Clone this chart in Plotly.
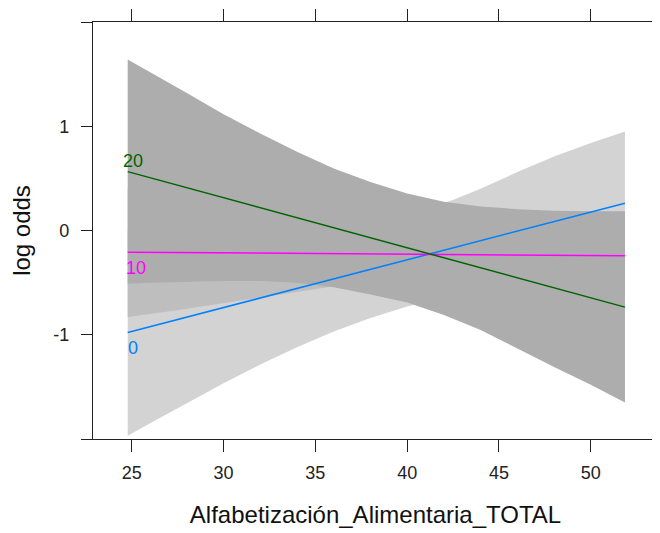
import plotly.graph_objects as go

# ---- data ----
line_x = [24.78, 51.86]
line_0 = [-0.978, 0.262]     # level "0"  (blue)
line_10 = [-0.208, -0.243]   # level "10" (magenta)
line_20 = [0.565, -0.735]    # level "20" (green)

band_x = [24.78, 26, 28, 30, 32, 34, 36, 38, 40, 42, 44, 46, 48, 50, 51.86]
band0_lower = [-1.97, -1.85, -1.655, -1.465, -1.285, -1.12, -0.97, -0.84, -0.73, -0.64, -0.60, -0.58, -0.54, -0.48, -0.43]
band0_upper = [0.01, 0.01, 0.00, -0.01, -0.02, 0.015, 0.05, 0.09, 0.16, 0.26, 0.40, 0.56, 0.71, 0.84, 0.95]
band10_lower = [-0.83, -0.80, -0.75, -0.70, -0.645, -0.59, -0.535, -0.49, -0.48, -0.49, -0.51, -0.55, -0.58, -0.62, -0.65]
band10_upper = [0.41, 0.38, 0.33, 0.27, 0.20, 0.15, 0.09, 0.045, 0.02, 0.03, 0.05, 0.075, 0.10, 0.14, 0.167]
band20_lower = [-0.51, -0.50, -0.49, -0.485, -0.485, -0.50, -0.545, -0.615, -0.69, -0.81, -0.955, -1.13, -1.31, -1.48, -1.65]
band20_upper = [1.64, 1.52, 1.32, 1.115, 0.93, 0.755, 0.595, 0.465, 0.355, 0.275, 0.23, 0.205, 0.19, 0.185, 0.185]

levels = ["0", "10", "20"]
x_ticks = [25, 30, 35, 40, 45, 50]
x_ticktext = ["25", "30", "35", "40", "45", "50"]
y_ticks = [-2, -1, 0, 1, 2]
y_ticktext = ["", "-1", "0", "1", ""]

x_title = "Alfabetización_Alimentaria_TOTAL"
y_title = "log odds"

# ---- styles ----
line_colors = ["#0080ff", "#ff00ff", "#006400"]
band_colors = ["#d3d3d3", "#bebebe", "#adadad"]
FONT = "Liberation Sans, Arial, sans-serif"

fig = go.Figure()

bands = [(band0_lower, band0_upper), (band10_lower, band10_upper), (band20_lower, band20_upper)]
for (lo, up), col in zip(bands, band_colors):
    fig.add_trace(go.Scatter(
        x=band_x + band_x[::-1], y=up + lo[::-1],
        fill="toself", fillcolor=col, mode="lines",
        line=dict(width=0, color=col), hoverinfo="skip", showlegend=False))

lines = [line_0, line_10, line_20]
for ys, col in zip(lines, line_colors):
    fig.add_trace(go.Scatter(x=line_x, y=ys, mode="lines",
                             line=dict(color=col, width=1.5), showlegend=False))

# level labels at line starts
label_shifts = [(5, -15.5), (8, -15.5), (5.3, 11)]
for lab, ys, col, (dx, dy) in zip(levels, lines, line_colors, label_shifts):
    fig.add_annotation(x=line_x[0], y=ys[0], text=lab, showarrow=False,
                       xanchor="center", yanchor="middle", xshift=dx, yshift=dy,
                       font=dict(color=col, size=18, family=FONT))

axis_common = dict(showgrid=False, zeroline=False, showline=True, linecolor="#222",
                   linewidth=1.2, mirror="ticks", ticks="outside", tickcolor="#222",
                   tickwidth=1.2, tickfont=dict(size=18, color="#222", family=FONT),
                   automargin=False)

fig.update_xaxes(range=[22.89, 53.66], tickvals=x_ticks, ticktext=x_ticktext,
                 ticklen=12, ticklabelstandoff=5,
                 title=dict(text=x_title, standoff=24, font=dict(size=24, color="#111", family=FONT)),
                 **axis_common)
fig.update_yaxes(range=[-2, 2], tickvals=y_ticks, ticktext=y_ticktext,
                 ticklen=11, ticklabelstandoff=8,
                 title=dict(text=y_title, standoff=15, font=dict(size=24, color="#111", family=FONT)),
                 **axis_common)

# the page body adds an 8px offset, so the figure is drawn 8px smaller
fig.update_layout(width=652, height=525, margin=dict(l=85, r=2, t=14, b=94),
                  plot_bgcolor="white", paper_bgcolor="white", showlegend=False)

fig.write_html("out.html")
